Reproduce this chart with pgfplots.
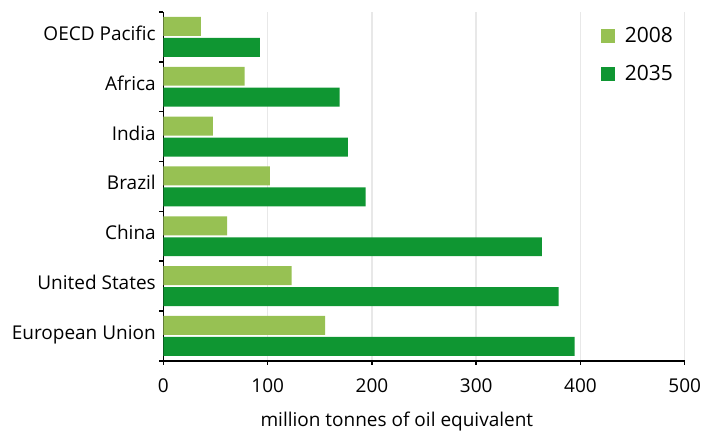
\documentclass[border=0pt]{standalone}
\usepackage{pgfplots}
\pgfplotsset{compat=1.18}
\usepackage{fontspec}
\setmainfont{Open Sans}
\definecolor{lightg}{RGB}{151,193,83}
\definecolor{darkg}{RGB}{15,150,50}
\definecolor{gridg}{RGB}{232,232,232}
\begin{document}
\begin{tikzpicture}
\begin{axis}[
  at={(0pt,0pt)}, anchor=south west,
  scale only axis, width=521.5pt, height=349pt,
  xmin=0, xmax=500, ymin=-0.5, ymax=6.5,
  axis lines*=left,
  axis line style={line width=1.5pt, black},
  xtick={0,100,...,500},
  ytick={0,...,6},
  yticklabels={European Union,United States,China,Brazil,India,Africa,OECD Pacific},
  minor ytick={-0.5,0.5,...,6.5},
  major y tick style={draw=none},
  minor tick length=4pt,
  major tick length=4pt,
  tick align=outside,
  tick style={line width=1.5pt, black},
  xmajorgrids, major x grid style={gridg, line width=1.5pt},
  /pgf/number format/assume math mode=true,
  ticklabel style={font=\fontsize{19}{22}\selectfont},
  xticklabel style={inner sep=0pt, anchor=north, yshift=-14pt},
  yticklabel style={inner sep=0pt, anchor=base east, xshift=-3.5pt, yshift=-3.5pt},
  xlabel={million tonnes of oil equivalent},
  xlabel style={font=\fontsize{19}{22}\selectfont, anchor=base, at={(rel axis cs:0.4478,0)}, yshift=-66pt},
  xbar, bar width=0.38,
  legend style={draw=none, fill=none, at={(rel axis cs:0.839,0.962)}, anchor=north west,
    font=\fontsize{21}{24}\selectfont, row sep=17pt, inner sep=0pt},
  legend cell align=left,
  legend image code/.code={\fill[#1] (0pt,-7pt) rectangle (14pt,7pt); \path (22pt,0pt);},
]
\addplot[fill=lightg, draw=none, bar shift=0.21] coordinates {
  (155,0) (123,1) (61,2) (102,3) (47.5,4) (78,5) (36,6)};
\addplot[fill=darkg, draw=none, bar shift=-0.21] coordinates {
  (394.5,0) (379,1) (363,2) (194,3) (177,4) (169,5) (92.5,6)};
\legend{2008,2035}
\end{axis}
\path[use as bounding box] (-163.5pt,-67pt) rectangle (537.5pt,361pt);
\end{tikzpicture}
\end{document}
